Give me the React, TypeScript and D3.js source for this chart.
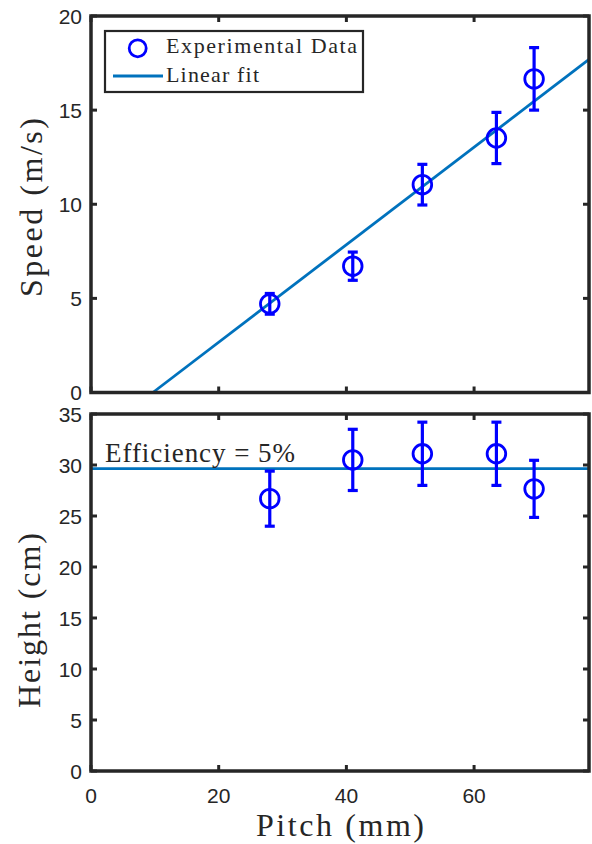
import React from "react";
import * as d3 from "d3";

// ---- data ----
const pitch = [28.0, 41.0, 51.9, 63.5, 69.4];
const speed = [4.71, 6.71, 11.04, 13.52, 16.66];
const speedErr = [0.55, 0.75, 1.08, 1.36, 1.66];
const height = [26.7, 30.5, 31.1, 31.1, 27.66];
const heightErr = [2.7, 3.0, 3.1, 3.1, 2.8];
const fitSlope = 0.259;
const fitIntercept = -2.51;
const efficiencyHeight = 29.65;
const xTicks = [0, 20, 40, 60];
const speedTicks = [0, 5, 10, 15, 20];
const heightTicks = [0, 5, 10, 15, 20, 25, 30, 35];
const xDomain = [0, 78];
const speedDomain = [0, 20];
const heightDomain = [0, 35];

const W = 592;
const H = 844;
const left = 91;
const right = 589;
const top1 = 16;
const bot1 = 392.5;
const top2 = 414;
const bot2 = 771;

const AX = "#262626";
const MARK = "#0000FF";
const FIT = "#0072BD";
const SERIF = "'Liberation Serif', 'Times New Roman', serif";
const SANS = "'Liberation Sans', Arial, Helvetica, sans-serif";

const x = d3.scaleLinear().domain(xDomain).range([left, right]);
const y1 = d3.scaleLinear().domain(speedDomain).range([bot1, top1]);
const y2 = d3.scaleLinear().domain(heightDomain).range([bot2, top2]);

function Panel({ y, yTicks, top, bottom, showXLabels }: any) {
  const tl = 6;
  return (
    <g>
      {xTicks.map((t) => (
        <g key={"x" + t}>
          <line x1={x(t)} x2={x(t)} y1={bottom} y2={bottom - tl} stroke={AX} strokeWidth={3} />
          <line x1={x(t)} x2={x(t)} y1={top} y2={top + tl} stroke={AX} strokeWidth={3} />
          {showXLabels && (
            <text x={x(t)} y={bottom + 32} textAnchor="middle" fontFamily={SANS} fontSize={21} fill={AX}>
              {t}
            </text>
          )}
        </g>
      ))}
      {yTicks.map((t: number) => (
        <g key={"y" + t}>
          <line x1={left} x2={left + tl} y1={y(t)} y2={y(t)} stroke={AX} strokeWidth={3} />
          <line x1={right} x2={right - tl} y1={y(t)} y2={y(t)} stroke={AX} strokeWidth={3} />
          <text x={82} y={y(t)} dy="0.36em" textAnchor="end" fontFamily={SANS} fontSize={21} fill={AX}>
            {t}
          </text>
        </g>
      ))}
      <rect x={left} y={top} width={right - left} height={bottom - top} fill="none" stroke={AX} strokeWidth={3.5} />
    </g>
  );
}

function ErrorPoints({ y, vals, errs }: any) {
  const cap = 5;
  return (
    <g>
      {pitch.map((p, i) => {
        const cx = x(p);
        const yt = y(vals[i] + errs[i]);
        const yb = y(vals[i] - errs[i]);
        return (
          <g key={i}>
            <line x1={cx} x2={cx} y1={yt} y2={yb} stroke={MARK} strokeWidth={3.2} />
            <line x1={cx - cap} x2={cx + cap} y1={yt} y2={yt} stroke={MARK} strokeWidth={3.2} />
            <line x1={cx - cap} x2={cx + cap} y1={yb} y2={yb} stroke={MARK} strokeWidth={3.2} />
            <circle cx={cx} cy={y(vals[i])} r={9.3} fill="none" stroke={MARK} strokeWidth={2.8} />
          </g>
        );
      })}
    </g>
  );
}

export default function App() {
  const x0 = -fitIntercept / fitSlope;
  const fitLine = d3
    .line<number>()
    .x((d) => x(d))
    .y((d) => y1(fitSlope * d + fitIntercept));
  const effLine = d3
    .line<number>()
    .x((d) => x(d))
    .y(() => y2(efficiencyHeight));

  return (
    <svg
      width={W}
      height={H}
      viewBox={`0 0 ${W} ${H}`}
      style={{ position: "absolute", left: 0, top: 0, background: "#fff" }}
    >
      <rect x={0} y={0} width={W} height={H} fill="#fff" />
      {/* top panel */}
      <path d={fitLine([x0, xDomain[1]]) || ""} stroke={FIT} strokeWidth={2.8} fill="none" />
      <ErrorPoints y={y1} vals={speed} errs={speedErr} />
      <Panel y={y1} yTicks={speedTicks} top={top1} bottom={bot1} showXLabels={false} />
      <text
        transform={`translate(42,${207.5}) rotate(-90)`}
        textAnchor="middle"
        fontFamily={SERIF}
        fontSize={32}
        fill={AX}
        textLength={179}
        lengthAdjust="spacing"
      >
        Speed (m/s)
      </text>
      {/* legend */}
      <rect x={105} y={31} width={258} height={61} fill="#fff" stroke={AX} strokeWidth={2.2} />
      <circle cx={137.7} cy={48.3} r={8.5} fill="none" stroke={MARK} strokeWidth={2.8} />
      <line x1={113} x2={163} y1={76} y2={76} stroke={FIT} strokeWidth={2.8} />
      <text x={166} y={53.3} fontFamily={SERIF} fontSize={22} fill={AX} textLength={191} lengthAdjust="spacing">
        Experimental Data
      </text>
      <text x={166} y={81.7} fontFamily={SERIF} fontSize={22} fill={AX} textLength={93} lengthAdjust="spacing">
        Linear fit
      </text>

      {/* bottom panel */}
      <path d={effLine(xDomain) || ""} stroke={FIT} strokeWidth={2.8} fill="none" />
      <ErrorPoints y={y2} vals={height} errs={heightErr} />
      <Panel y={y2} yTicks={heightTicks} top={top2} bottom={bot2} showXLabels={true} />
      <text x={105} y={461.7} fontFamily={SERIF} fontSize={27} fill={AX} textLength={190} lengthAdjust="spacing">
        Efficiency = 5%
      </text>
      <text
        transform={`translate(40,${620.5}) rotate(-90)`}
        textAnchor="middle"
        fontFamily={SERIF}
        fontSize={32}
        fill={AX}
        textLength={175}
        lengthAdjust="spacing"
      >
        Height (cm)
      </text>
      <text x={340} y={836} textAnchor="middle" fontFamily={SERIF} fontSize={32} fill={AX} textLength={168} lengthAdjust="spacing">
        Pitch (mm)
      </text>
    </svg>
  );
}
